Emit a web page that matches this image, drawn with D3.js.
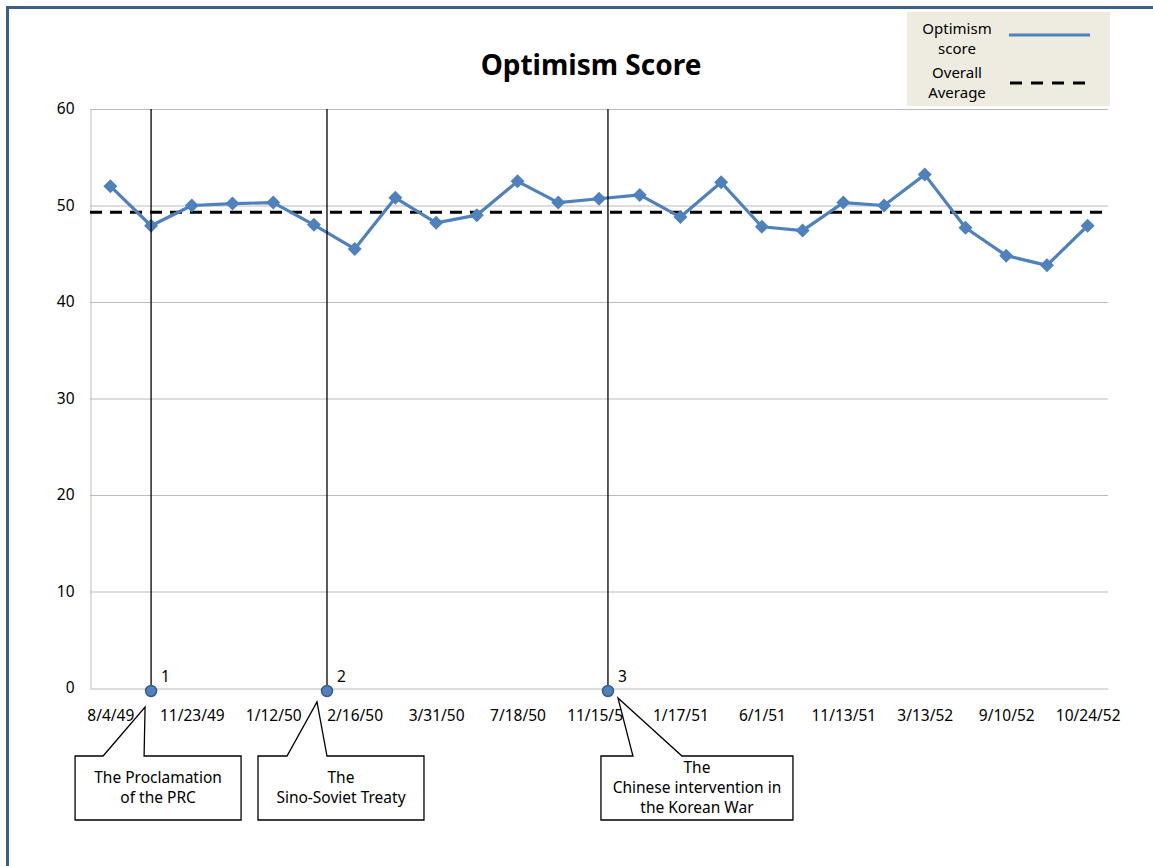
<!DOCTYPE html>
<html>
<head>
<meta charset="utf-8">
<script src="https://cdn.jsdelivr.net/npm/d3@7"></script>
<style>
  body { margin: 0; background: #fff; }
  svg { display: block; font-family: 'Noto Sans', sans-serif; }
</style>
</head>
<body>
<div id="chart"></div>
<script>
// values
const scores = [52.0, 47.9, 50.0, 50.2, 50.3, 48.0, 45.5, 50.8, 48.2, 49.0,
                52.5, 50.3, 50.7, 51.1, 48.8, 52.4, 47.8, 47.4, 50.3, 50.0,
                53.2, 47.7, 44.8, 43.8, 47.9];
const overallAverage = 49.3;
// only every second date is written under the axis
const tickLabels = ['8/4/49', '11/23/49', '1/12/50', '2/16/50', '3/31/50', '7/18/50',
                    '11/15/50', '1/17/51', '6/1/51', '11/13/51', '3/13/52', '9/10/52',
                    '10/24/52'];
const yTicks = [0, 10, 20, 30, 40, 50, 60];
// events: position in category units, number, callout text
const eventPos = [1, 5.32, 12.22];
const eventNums = ['1', '2', '3'];
const eventTexts = [
  ['The Proclamation', 'of the PRC'],
  ['The', 'Sino-Soviet Treaty'],
  ['The', 'Chinese intervention in', 'the Korean War']
];

const width = 1153, height = 866;
const margin = { top: 109, right: 45, bottom: 178, left: 90 };
const blue = '#4F81BD';
const fs = 15.5;

const svg = d3.select('#chart').append('svg')
  .attr('width', width).attr('height', height)
  .attr('viewBox', [0, 0, width, height]);

// outer frame
svg.append('rect')
  .attr('x', 7.5).attr('y', 7.5)
  .attr('width', width + 20).attr('height', height + 20)
  .attr('fill', 'none').attr('stroke', '#3B5E8C').attr('stroke-width', 3);

const idx = d3.range(scores.length);
const x = d3.scalePoint()
  .domain(idx).range([margin.left, width - margin.right]).padding(0.5);
// fractional category position
const xf = d3.scaleLinear()
  .domain([0, 1]).range([x(0), x(0) + x.step()]);
const y = d3.scaleLinear()
  .domain([0, 60]).range([height - margin.bottom, margin.top]);

// gridlines ========================================================
svg.append('g').selectAll('line').data(yTicks.filter(d => d > 0)).join('line')
  .attr('x1', margin.left).attr('x2', width - margin.right)
  .attr('y1', d => y(d) + 0.5).attr('y2', d => y(d) + 0.5)
  .attr('stroke', '#BBBBBB').attr('stroke-width', 1);

const ay = d3.axisLeft(y).tickValues(yTicks).tickSize(0).tickPadding(16);
svg.append('g')
  .attr('transform', `translate(${margin.left + 0.5},0)`)
  .call(ay)
  .call(g => g.select('.domain').attr('stroke', '#BBBBBB'))
  .call(g => g.selectAll('text')
    .attr('font-size', fs).attr('fill', '#000')
    .attr('font-family', "'Noto Sans', sans-serif"));

const ax = d3.axisBottom(x)
  .tickValues(idx.filter(i => i % 2 === 0))
  .tickFormat(i => tickLabels[i / 2])
  .tickSize(0).tickPadding(21);
svg.append('g')
  .attr('transform', `translate(0,${y(0) + 0.5})`)
  .call(ax)
  .call(g => g.select('.domain').attr('stroke', '#BBBBBB'))
  .call(g => g.selectAll('text')
    .attr('font-size', fs).attr('fill', '#000')
    .attr('font-family', "'Noto Sans', sans-serif"));

// overall average ===================================================
svg.append('line')
  .attr('x1', margin.left).attr('x2', width - margin.right)
  .attr('y1', y(overallAverage)).attr('y2', y(overallAverage))
  .attr('stroke', '#000').attr('stroke-width', 3)
  .attr('stroke-dasharray', '12,8');

// series ===========================================================
svg.append('path')
  .datum(scores)
  .attr('fill', 'none').attr('stroke', blue).attr('stroke-width', 3.2)
  .attr('stroke-linejoin', 'round')
  .attr('d', d3.line().x((d, i) => x(i)).y(d => y(d)));

svg.append('g').selectAll('path').data(scores).join('path')
  .attr('d', d3.symbol(d3.symbolSquare, 98))
  .attr('transform', (d, i) => `translate(${x(i)},${y(d)}) rotate(45)`)
  .attr('fill', blue);

// events ===========================================================
const ev = svg.append('g');
ev.selectAll('line').data(eventPos).join('line')
  .attr('x1', d => xf(d)).attr('x2', d => xf(d))
  .attr('y1', y(60)).attr('y2', y(0) + 3)
  .attr('stroke', '#000').attr('stroke-width', 1.3);

// callouts: [box left, box right, tip dx, tip y, base left, base right] relative to event x
const calloutShape = [
  [-76, 90, -6, 707, -48, -7],
  [-69, 97, -10, 702, -40, 0],
  [-7, 185, 10, 698, 25, 74]
];
const boxTop = 756, boxBottom = 820;
eventPos.forEach((p, k) => {
  const cx = xf(p);
  const [l, r, tdx, ty, bl, br] = calloutShape[k];
  const path = d3.path();
  path.moveTo(cx + l, boxTop);
  path.lineTo(cx + bl, boxTop);
  path.lineTo(cx + tdx, ty);
  path.lineTo(cx + br, boxTop);
  path.lineTo(cx + r, boxTop);
  path.lineTo(cx + r, boxBottom);
  path.lineTo(cx + l, boxBottom);
  path.closePath();
  ev.append('path').attr('d', path.toString())
    .attr('fill', '#fff').attr('stroke', '#000').attr('stroke-width', 1.3);
  const lines = eventTexts[k];
  const mid = (boxTop + boxBottom) / 2;
  const lh = 20;
  ev.append('g').selectAll('text').data(lines).join('text')
    .attr('x', cx + (l + r) / 2)
    .attr('y', (d, i) => mid + (i - (lines.length - 1) / 2) * lh)
    .attr('dy', '0.35em')
    .attr('text-anchor', 'middle').attr('font-size', fs).attr('fill', '#000')
    .text(d => d);
});

ev.selectAll('circle').data(eventPos).join('circle')
  .attr('cx', d => xf(d)).attr('cy', y(0) + 3).attr('r', 5.5)
  .attr('fill', blue).attr('stroke', '#385D8A').attr('stroke-width', 1.5);
ev.selectAll('text.num').data(eventPos).join('text')
  .attr('class', 'num')
  .attr('x', d => xf(d) + 10).attr('y', y(0) - 11)
  .attr('dy', '0.35em').attr('font-size', fs).attr('fill', '#000')
  .text((d, i) => eventNums[i]);

// title ============================================================
svg.append('text')
  .attr('x', 591).attr('y', 65).attr('dy', '0.35em')
  .attr('text-anchor', 'middle')
  .attr('font-size', 28).attr('font-weight', 'bold').attr('fill', '#000')
  .text('Optimism Score');

// legend ===========================================================
const lg = svg.append('g');
lg.append('rect')
  .attr('x', 907).attr('y', 12).attr('width', 203).attr('height', 94)
  .attr('fill', '#EEECE1');
lg.selectAll('text').data(['Optimism', 'score', 'Overall', 'Average']).join('text')
  .attr('x', 957).attr('y', (d, i) => [29, 49, 73, 93][i]).attr('dy', '0.35em')
  .attr('text-anchor', 'middle').attr('font-size', 15).attr('fill', '#000')
  .text(d => d);
lg.append('line')
  .attr('x1', 1009).attr('x2', 1090).attr('y1', 35).attr('y2', 35)
  .attr('stroke', blue).attr('stroke-width', 3);
lg.append('line')
  .attr('x1', 1010).attr('x2', 1090).attr('y1', 83).attr('y2', 83)
  .attr('stroke', '#000').attr('stroke-width', 3)
  .attr('stroke-dasharray', '12,9');
</script>
</body>
</html>
